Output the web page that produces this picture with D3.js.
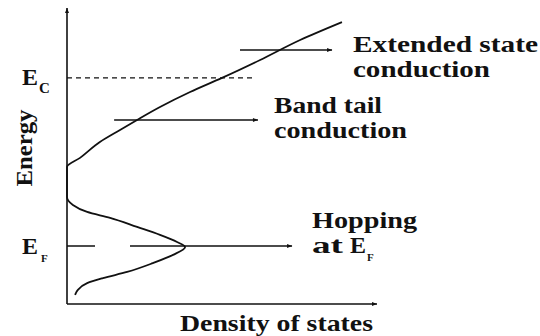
<!DOCTYPE html>
<html>
<head>
<meta charset="utf-8">
<script src="https://cdn.jsdelivr.net/npm/d3@7"></script>
<style>
    html, body { margin: 0; padding: 0; background: #fff; }
    #chart { width: 540px; height: 336px; }
    text { font-family: 'Liberation Serif', 'Times New Roman', serif; font-weight: bold; fill: #111; }
</style>
</head>
<body>
<div id="chart"></div>
<script>
//Datos (unidades arbitrarias: energía 0-10, densidad 0-10)
const curveEnergy = [9.59, 8.98, 8.30, 7.69, 7.21, 6.70, 6.26, 5.92, 5.51, 4.97, 4.66, 4.2, 3.64,
    3.37, 3.13, 2.93, 2.62, 2.35, 2.11, 1.94, 1.67, 1.39, 1.09, 0.88, 0.71, 0.48, 0.31];
const curveDos = [8.87, 7.52, 6.23, 5.0, 3.97, 3.0, 2.26, 1.71, 1.06, 0.42, 0, 0, 0,
    0.19, 0.65, 1.39, 2.26, 3.0, 3.55, 3.81, 3.42, 2.77, 1.94, 1.16, 0.65, 0.35, 0.26];

const E_C = 7.69, E_F = 1.97;
const ecLineEnd = 5.97;

const arrowLabels = ['Extended state conduction', 'Band tail conduction', 'Hopping at E_F'];
const arrowEnergy = [8.64, 6.26, 1.97];
const arrowFrom = [5.58, 1.52, 0];
const arrowTo = [8.55, 6.16, 7.26];

const xLabel = 'Density of states';
const yLabel = 'Energy';

let margin = {top: 10, right: 163, bottom: 32, left: 67},
    width = 540 - margin.left - margin.right,
    height = 336 - margin.top - margin.bottom;

let svg = d3.select('#chart')
    .append('svg')
        .attr('width', 540)
        .attr('height', 336)
    .append('g')
        .attr('transform', 'translate(' + margin.left + ',' + margin.top + ')');

let x = d3.scaleLinear().domain([0, 10]).range([0, width]);
let y = d3.scaleLinear().domain([0, 10]).range([height, 0]);

//Puntas de flecha
let defs = d3.select('#chart svg').append('defs');
defs.append('marker')
    .attr('id', 'head')
    .attr('viewBox', '0 0 10 10')
    .attr('refX', 10).attr('refY', 5)
    .attr('markerWidth', 10).attr('markerHeight', 5)
    .attr('markerUnits', 'userSpaceOnUse')
    .attr('orient', 'auto')
    .append('path')
    .attr('d', 'M0,1 L10,5 L0,9 Z')
    .attr('fill', '#111');

//Ejes
svg.append('line')
    .attr('x1', x(0)).attr('y1', y(0))
    .attr('x2', x(0)).attr('y2', -2)
    .attr('stroke', '#111').attr('stroke-width', 1.6)
    .attr('marker-end', 'url(#head)');

svg.append('line')
    .attr('x1', x(0)).attr('y1', y(0))
    .attr('x2', x(10)).attr('y2', y(0))
    .attr('stroke', '#111').attr('stroke-width', 1.6)
    .attr('marker-end', 'url(#head)');

//Línea Ec
svg.append('line')
    .attr('x1', x(0)).attr('y1', y(E_C))
    .attr('x2', x(ecLineEnd)).attr('y2', y(E_C))
    .attr('stroke', '#111').attr('stroke-width', 1.1)
    .attr('stroke-dasharray', '5,4');

//Curva de densidad de estados
let pts = curveEnergy.map(function(e, i) { return [curveDos[i], e]; });
let line = d3.line()
    .x(function(d) { return x(d[0]); })
    .y(function(d) { return y(d[1]); })
    .curve(d3.curveMonotoneY);

svg.append('path')
    .datum(pts)
    .attr('d', line)
    .attr('fill', 'none')
    .attr('stroke', '#111')
    .attr('stroke-width', 1.8);

//Flechas de conducción
arrowEnergy.forEach(function(e, i) {
    svg.append('line')
        .attr('x1', x(arrowFrom[i])).attr('y1', y(e))
        .attr('x2', x(arrowTo[i])).attr('y2', y(e))
        .attr('stroke', '#111').attr('stroke-width', 1.5)
        .attr('stroke-dasharray', i == 2 ? '28,35,400' : null)
        .attr('marker-end', 'url(#head)');
});

//Textos
let root = d3.select('#chart svg');

function label(txt, px, py, len, size) {
    return root.append('text')
        .attr('x', px).attr('y', py)
        .attr('font-size', size || 24)
        .attr('textLength', len)
        .attr('lengthAdjust', 'spacingAndGlyphs')
        .text(txt);
}

label('Extended state', 353, 52, 185);
label('conduction', 353, 77, 137);
label('Band tail', 274, 113, 108);
label('conduction', 274, 138, 133);
label('Hopping', 312, 228, 105);
label('at', 312, 253, 31);
label('E', 350, 253, 16);
root.append('text').attr('x', 367).attr('y', 261).attr('font-size', 11).text('F');

label(xLabel, 180, 331, 193);

root.append('text')
    .attr('transform', 'translate(32,148) rotate(-90)')
    .attr('text-anchor', 'middle')
    .attr('font-size', 23)
    .attr('textLength', 77)
    .attr('lengthAdjust', 'spacingAndGlyphs')
    .text(yLabel);

//Etiquetas de niveles
label('E', 22, 85, 16);
root.append('text').attr('x', 39).attr('y', 93).attr('font-size', 15).attr('font-weight', 'normal').text('C');
label('E', 22, 254, 16);
root.append('text').attr('x', 41).attr('y', 262).attr('font-size', 11).text('F');
</script>
</body>
</html>
